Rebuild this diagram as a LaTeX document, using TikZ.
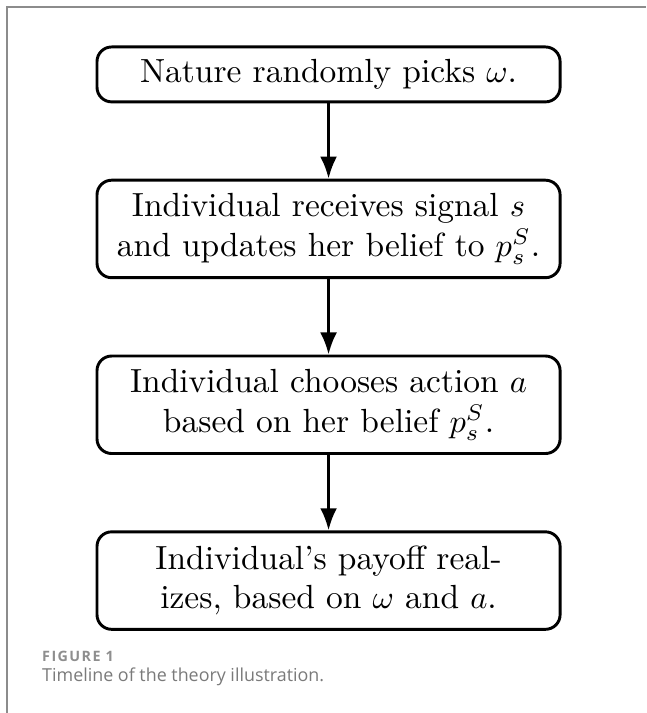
\documentclass[tikz,border=0pt]{standalone}
\usepackage{amsmath}
\usepackage{fontspec}
\usepackage{tikz}
\usetikzlibrary{arrows,arrows.meta,calc,positioning,shapes}
\newfontfamily\capfont{Open Sans}
\definecolor{capgray}{HTML}{7A7A7A}
\definecolor{framegray}{HTML}{8C8C8C}
\begin{document}
\begin{tikzpicture}[stage/.style={draw,line width=0.9pt,rounded corners=4.5pt,align=center,minimum width=142.5pt,inner ysep=3pt,
        font=\fontsize{10.3pt}{12.1pt}\selectfont},
    flow/.style={line width=0.9pt,-{Latex[length=6.8pt,width=5.2pt]}},
    node distance=23.2pt]
\useasboundingbox (0,0) rectangle (198.8pt,-219.4pt);
\coordinate (FB) at (2.15pt,-219.4pt);
\coordinate (FC) at (2.15pt,-2.15pt);
\coordinate (FR) at (198.8pt,-2.15pt);
\draw[framegray,line width=0.6pt] (FB) -- (FC) -- (FR);
\node[stage,minimum height=16.9pt] (N) at (101.1pt,-22.9pt) {Nature randomly picks $\omega$.};
\node[stage,minimum height=30pt,below=of N] (R) {Individual receives signal $s$\\ and updates her belief to $p_s^S$.};
\node[stage,minimum height=30pt,below=of R] (C) {Individual chooses action $a$\\ based on her belief $p_s^S$.};
\node[stage,minimum height=30pt,below=of C] (P) {Individual's payoff real-\\izes, based on $\omega$ and $a$.};
    \path (N) edge[flow] (R);
    \path (R) edge[flow] (C);
    \path (C) edge[flow] (P);
\node[anchor=base west,inner sep=0pt,text=capgray!85,font=\capfont\bfseries\fontsize{4.4pt}{5.3pt}\selectfont\addfontfeature{LetterSpace=10}] (F) at (12.8pt,-203.6pt) {FIGURE 1};
\node[anchor=base west,inner sep=0pt,text=capgray,font=\capfont\fontsize{5.5pt}{6.6pt}\selectfont] (T) at (12.8pt,-209.8pt) {Timeline of the theory illustration.};
\end{tikzpicture}
\end{document}
